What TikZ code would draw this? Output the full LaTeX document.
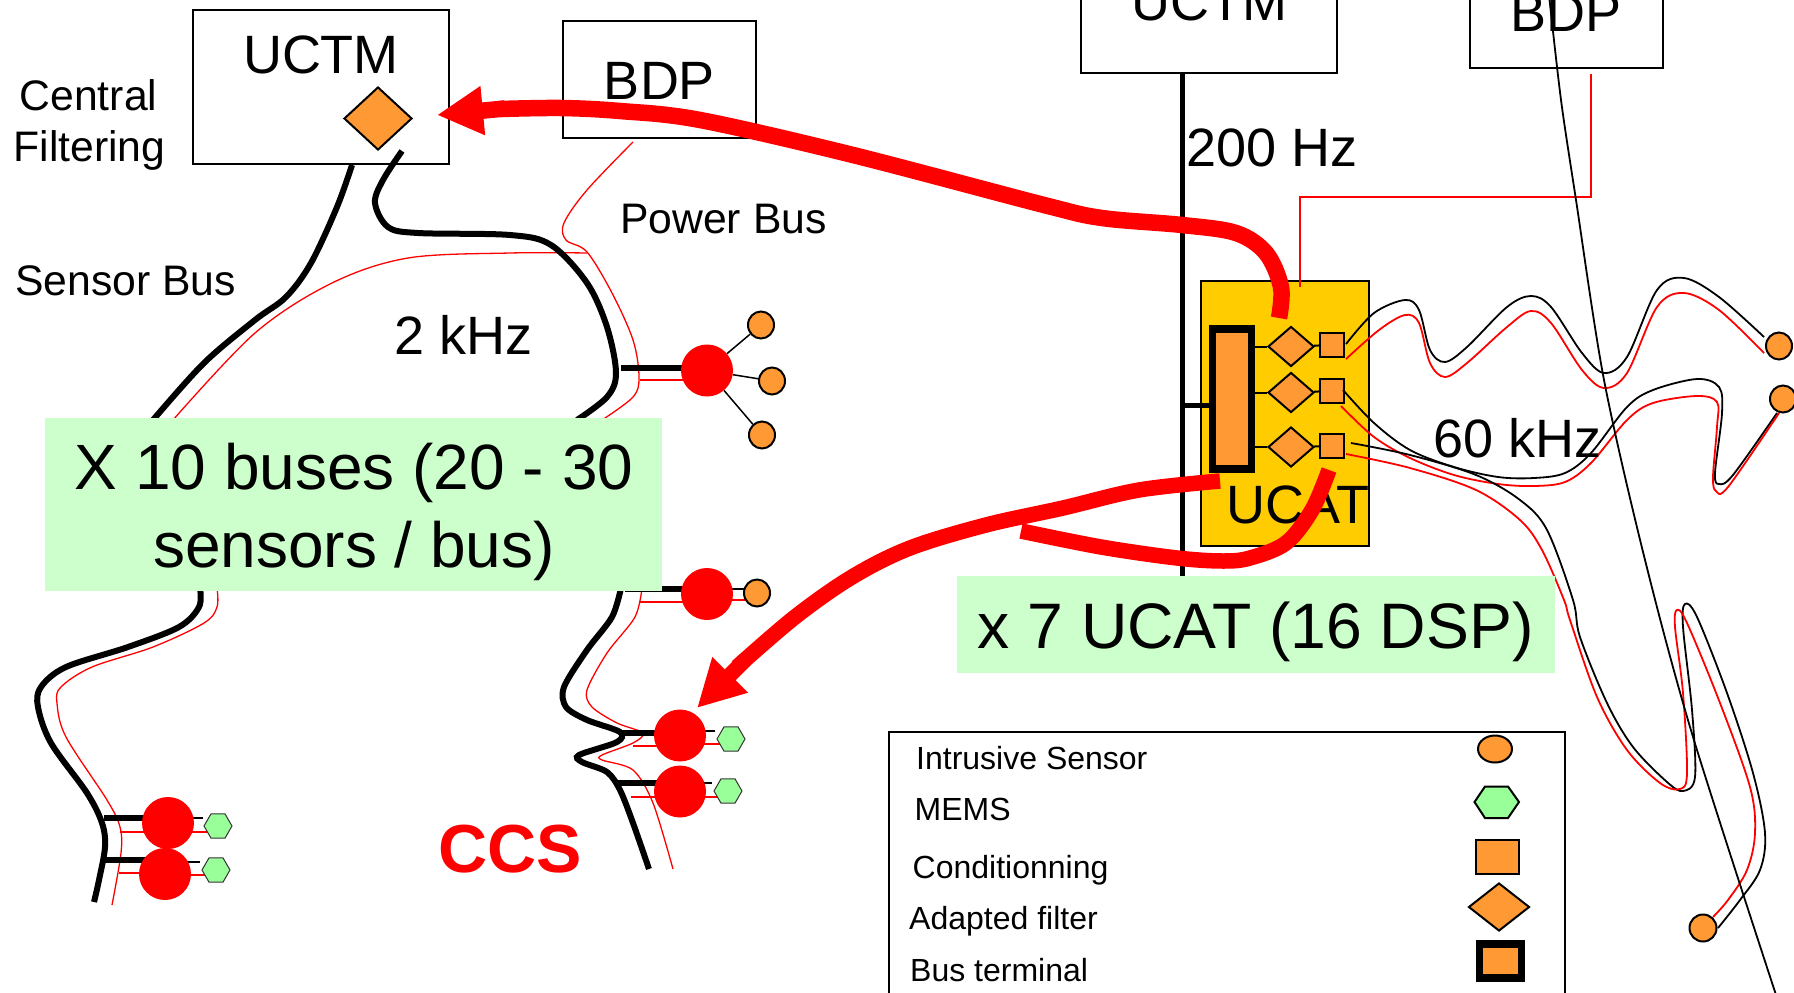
\documentclass[tikz,border=0pt]{standalone}
\usepackage{fontspec}
\setmainfont{Liberation Sans}
\usetikzlibrary{shapes.geometric,arrows.meta,backgrounds}
\definecolor{orangefill}{HTML}{FF9933}
\definecolor{memsfill}{HTML}{99FF99}
\definecolor{notefill}{HTML}{CCFFCC}
\definecolor{ucatfill}{HTML}{FFCC00}
\tikzset{
  box/.style={draw=black,line width=2pt,inner sep=0pt},
  fsbig/.style={font=\fontsize{54}{60}\selectfont},
  fsmid/.style={font=\fontsize{42.7}{51}\selectfont},
  fssmall/.style={font=\fontsize{32}{38}\selectfont},
  fsnote/.style={font=\fontsize{64}{78}\selectfont},
  lbl/.style={inner sep=0pt,anchor=base},
  lblw/.style={inner sep=0pt,anchor=base west},
  note/.style={fill=notefill,inner sep=0pt},
  bus/.style={draw=black,line width=6pt},
  redbus/.style={draw=red,line width=1.3pt},
  stub/.style={draw=black,line width=6pt},
  redstub/.style={draw=red,line width=1.5pt},
  thinstub/.style={draw=black,line width=1.5pt},
  wire/.style={draw=black,line width=1.8pt},
  redwire/.style={draw=red,line width=1.8pt},
  link/.style={draw=black,line width=2pt},
  bigred/.style={draw=red,line width=16.5pt},
  bigredb/.style={draw=red,line width=15.5pt},
  hub/.style={circle,fill=red,minimum size=52pt,inner sep=0pt},
  sensor/.style={ellipse,draw=black,line width=2pt,fill=orangefill,minimum width=26pt,minimum height=27pt,inner sep=0pt},
  mems/.style={regular polygon,regular polygon sides=6,draw=black!80,line width=1pt,fill=memsfill,minimum size=28pt,inner sep=0pt},
  filter/.style={diamond,draw=black,line width=2pt,fill=orangefill,inner sep=0pt},
  cond/.style={rectangle,draw=black,line width=2pt,fill=orangefill,inner sep=0pt},
  terminal/.style={rectangle,draw=black,line width=7.5pt,fill=orangefill,inner sep=0pt},
  sm/.style={smooth,tension=0.55}
}
\begin{document}
\begin{tikzpicture}[x=1pt,y=-1pt]
\clip (0,0) rectangle (1794,993);

% --- boxes
\node[box,minimum width=256pt,minimum height=154pt] (uctmL) at (320.5,87) {};
\node[box,minimum width=193pt,minimum height=117pt] (bdpL) at (659.5,79.5) {};
\node[box,minimum width=256pt,minimum height=120pt] (uctmR) at (1209,12.5) {};
\node[box,minimum width=193pt,minimum height=116pt] (bdpR) at (1566.5,10) {};
\node[lbl,fsbig] (uctmLt) at (321,73) {UCTM};
\node[lbl,fsbig] (bdpLt) at (659.5,99) {BDP};
\node[lbl,fsbig] (uctmRt) at (1209,20.5) {UCTM};
\node[lbl,fsbig] (bdpRt) at (1566,31) {BDP};
\node[filter,minimum width=68pt,minimum height=63pt] (cf) at (378,118.5) {};

\node[lbl,fsmid] (central) at (88.5,110) {Central};
\node[lbl,fsmid] (filtering) at (89.5,161.5) {Filtering};
\node[lblw,fsmid] (sensorbus) at (15,295.5) {Sensor Bus};
\node[lblw,fsmid] (powerbus) at (620,233.5) {Power Bus};
\node[lbl,fsbig] (khzA) at (464,354) {2 kHz};
\node[lbl,fsbig] (hz) at (1272,166) {200 Hz};
\node[lbl,font=\bfseries\fontsize{68}{70}\selectfont,text=red] (ccs) at (510.5,872) {CCS};

% --- hubs and their sensors
\node[hub] (h1) at (707,370.5) {};
\node[sensor] (s1) at (761,325) {};
\node[sensor] (s2) at (772,381) {};
\node[sensor] (s3) at (762,435) {};
\node[hub] (h2) at (707,594) {};
\node[sensor] (s4) at (757,593) {};
\node[hub] (h3) at (680,735.5) {};
\node[mems] (m3) at (731,739) {};
\node[hub] (h4) at (680,791.5) {};
\node[mems] (m4) at (728,791) {};
\node[hub] (h5) at (168,823) {};
\node[mems] (m5) at (218,826) {};
\node[hub] (h6) at (165,874) {};
\node[mems] (m6) at (216,870) {};

\begin{scope}[on background layer]
  % sensor buses, left branch
  \draw[bus] plot[sm] coordinates {(352,165) (337,207) (311,263) (286,297) (255,320) (204,363) (153,420)};
  \draw[bus] plot[sm] coordinates {(200,588) (199,607) (179,627) (128,647) (66,667) (41,687) (38,707) (51,743) (87,793) (102,823) (105,847) (99,880) (94,902)};
  \draw[redbus] plot[sm] coordinates {(587,253) (510,253) (408,258) (332,283) (255,333) (173,420)};
  \draw[redbus] plot[sm] coordinates {(217,588) (217,607) (204,623) (153,647) (92,667) (61,687) (57,703) (66,737) (107,800) (120,827) (121,853) (112,905)};
  % sensor buses, right branch
  \draw[bus] plot[sm] coordinates {(402,151) (383,180) (375,203) (388,227) (418,233) (510,235) (551,245) (587,283) (607,327) (616,373) (607,397) (577,420)};
  \draw[bus] plot[smooth,tension=0.5] coordinates {(621,588) (612,617) (587,650) (564,687) (566,707) (587,720) (620,732) (617,742) (579,755) (582,762) (607,772) (620,790) (633,823) (649,869)};
  \draw[redbus] plot[sm] coordinates {(633,142) (587,190) (564,223) (566,240) (587,252) (612,293) (633,340) (639,377) (633,397) (602,420)};
  \draw[redbus] plot[smooth,tension=0.5] coordinates {(642,588) (635,617) (607,653) (587,690) (592,707) (617,723) (643,733) (633,743) (602,755) (602,760) (633,770) (653,803) (673,869)};
  % stubs to the hubs
  \draw[stub] (621,368) -- (h1.center |- 0,368);
  \draw[redstub] (640,380) -- (h1.center |- 0,380);
  \draw[stub] (625,589) -- (h2.center |- 0,589);
  \draw[redstub] (640,602) -- (h2.center |- 0,602);
  \draw[stub] (620,733) -- (h3.center |- 0,733);
  \draw[redstub] (633,746) -- (h3.center |- 0,746);
  \draw[stub] (616,783) -- (h4.center |- 0,783);
  \draw[redstub] (631,797) -- (h4.center |- 0,797);
  \draw[stub] (104,818) -- (h5.center |- 0,818);
  \draw[redstub] (120,832) -- (h5.center |- 0,832);
  \draw[stub] (104,860) -- (h6.center |- 0,860);
  \draw[redstub] (119,873) -- (h6.center |- 0,873);
  % hub to device
  \draw[thinstub] (h1) -- (s1);
  \draw[thinstub] (h1) -- (s2);
  \draw[thinstub] (h1) -- (s3);
  \draw[thinstub] (h2.center |- 0,589) -- (745,589);
  \draw[redstub] (h2.center |- 0,600) -- (s4.center |- 0,600);
  \draw[thinstub] (h3.center |- 0,731) -- (715,731);
  \draw[redstub] (h3.center |- 0,744) -- (m3.center |- 0,744);
  \draw[thinstub] (h4.center |- 0,783) -- (712,783);
  \draw[redstub] (h4.center |- 0,797) -- (m4.center |- 0,797);
  \draw[thinstub] (h5.center |- 0,818) -- (203,818);
  \draw[redstub] (h5.center |- 0,832) -- (m5.center |- 0,832);
  \draw[thinstub] (h6.center |- 0,862) -- (200,862);
  \draw[redstub] (h6.center |- 0,875) -- (m6.center |- 0,875);
\end{scope}

% --- UCAT
\draw[line width=5pt] (uctmR.south -| 1182,0) -- (1182,576);
\node[box,fill=ucatfill,minimum width=168pt,minimum height=265pt] (ucat) at (1285,413.5) {};
\draw[line width=5pt] (1182,405) -- (1212,405);
\node[terminal,minimum width=39pt,minimum height=140pt] (term) at (1232,399) {};
\node[lbl,fsbig] (ucatt) at (1298,523) {UCAT};
\node[filter,minimum width=46pt,minimum height=40pt] (d1) at (1291,346.5) {};
\node[filter,minimum width=46pt,minimum height=40pt] (d2) at (1291,392.5) {};
\node[filter,minimum width=46pt,minimum height=40pt] (d3) at (1291,447) {};
\node[cond,minimum width=24pt,minimum height=24pt] (c1) at (1332,345) {};
\node[cond,minimum width=24pt,minimum height=24pt] (c2) at (1332,391) {};
\node[cond,minimum width=24pt,minimum height=24pt] (c3) at (1332,446) {};
\draw[link] (term.east |- d1) -- (d1);
\draw[link] (term.east |- d2) -- (d2);
\draw[link] (term.east |- d3) -- (d3);
\draw[link] (d1) -- (c1);
\draw[link] (d2) -- (c2);
\draw[link] (d3) -- (c3);
\draw[redstub] (1591,74) -- (1591,197) -- (1300,197) -- (1300,287);

% --- front-end sensors on the right
\node[sensor] (s5) at (1779,346) {};
\node[sensor] (s6) at (1783,399) {};
\node[sensor,minimum width=27pt] (s7) at (1703,928) {};

\draw[wire] plot[sm] coordinates {(1346,344) (1374,313) (1405,300) (1419,310) (1430,350) (1445,362) (1467,347) (1507,307) (1531,296) (1551,307) (1582,353) (1604,373) (1627,357) (1657,290) (1684,278) (1719,297) (1764,337)};
\draw[redwire] plot[sm] coordinates {(1346,359) (1379,330) (1405,315) (1419,323) (1430,363) (1445,377) (1467,363) (1507,327) (1531,311) (1551,323) (1582,370) (1604,388) (1627,373) (1657,307) (1684,293) (1719,310) (1764,353)};
\draw[wire] plot[sm] coordinates {(1343,390) (1374,423) (1410,450) (1454,467) (1498,477) (1534,478) (1565,473) (1591,453) (1627,407) (1653,390) (1697,379) (1719,387) (1722,413) (1715,473) (1719,484) (1733,475) (1777,413)};
\draw[redwire] plot[sm] coordinates {(1341,406) (1374,437) (1410,458) (1454,475) (1498,484) (1534,486) (1565,482) (1591,463) (1627,420) (1653,403) (1697,396) (1717,402) (1717,427) (1713,477) (1716,491) (1728,487) (1779,413)};
\draw[wire] plot[sm] coordinates {(1351,443) (1410,455) (1476,475) (1520,500) (1547,530) (1573,600) (1580,637) (1607,703) (1633,747) (1667,782) (1683,791) (1695,777) (1692,710) (1683,627) (1685,604) (1697,617) (1727,693) (1753,773) (1765,833) (1760,870) (1740,900) (1718,928)};
\draw[redwire] plot[sm] coordinates {(1346,454) (1410,468) (1476,490) (1520,520) (1542,550) (1564,600) (1570,620) (1597,697) (1627,750) (1660,783) (1680,789) (1687,773) (1683,693) (1675,627) (1677,610) (1687,623) (1720,703) (1750,787) (1755,833) (1747,870) (1728,900) (1713,917)};
\draw[line width=1.8pt] plot[smooth,tension=0.5] coordinates {(1549,-5) (1561,100) (1576,200) (1604,380) (1645,560) (1693,737) (1777,998)};
\node[lbl,fsbig] (khzB) at (1517.5,457) {60 kHz};

% --- green notes
\node[note,minimum width=617pt,minimum height=173pt] (noteA) at (353.5,504.5) {};
\node[lbl,fsnote,align=center] (noteAa) at (354,489) {X 10 buses (20 - 30};
\node[lbl,fsnote,align=center] (noteAb) at (354,567) {sensors / bus)};
\node[note,minimum width=598pt,minimum height=97pt] (noteB) at (1256,624.5) {};
\node[lbl,font=\fontsize{64.3}{78}\selectfont] (noteBt) at (1255.5,648) {x 7 UCAT (16 DSP)};

% --- legend
\node[box,minimum width=676pt,minimum height=300pt,anchor=north west] (legend) at (887.5,731) {};
\node[lblw,fssmall] (l1) at (916,769.5) {Intrusive Sensor};
\node[lblw,fssmall] (l2) at (914.5,820) {MEMS};
\node[lblw,fssmall] (l3) at (912.5,878) {Conditionning};
\node[lblw,fssmall] (l4) at (909,929) {Adapted filter};
\node[lblw,fssmall] (l5) at (910,981) {Bus terminal};
\node[sensor,minimum width=34pt,minimum height=27pt] (k1) at (1495,749) {};
\draw[draw=black,line width=2pt,fill=memsfill] (1474.5,802) -- (1485,786.5) -- (1508,786.5) -- (1519,802) -- (1508,818) -- (1485,818) -- cycle;
\node[cond,minimum width=43pt,minimum height=34pt] (k3) at (1497.5,857) {};
\node[filter,minimum width=61pt,minimum height=48pt] (k4) at (1499,907) {};
\node[terminal,minimum width=42pt,minimum height=34pt] (k5) at (1500.5,961) {};

% --- thick red data-flow arrows
\draw[bigred] plot[sm] coordinates {(1279,318) (1281,287) (1266,253) (1236,233) (1182,225) (1102,218) (1044,205) (853,155) (700,120) (620,111) (561,108) (500,109)};
\draw[bigred,-{Triangle[length=46pt,width=46pt]}] (505,108.5) -- (437,115);
\draw[bigredb] plot[sm] coordinates {(1220,481) (1139,490) (1063,508) (986,525) (910,548) (852,577) (795,617) (737,667)};
\draw[bigredb,-{Triangle[length=47pt,width=47pt]}] (745,660) -- (697,708);
\draw[bigredb] plot[sm] coordinates {(1329,470) (1312,510) (1286,543) (1250,558) (1223,561) (1177,558) (1101,547) (1021,531)};
\end{tikzpicture}
\end{document}
